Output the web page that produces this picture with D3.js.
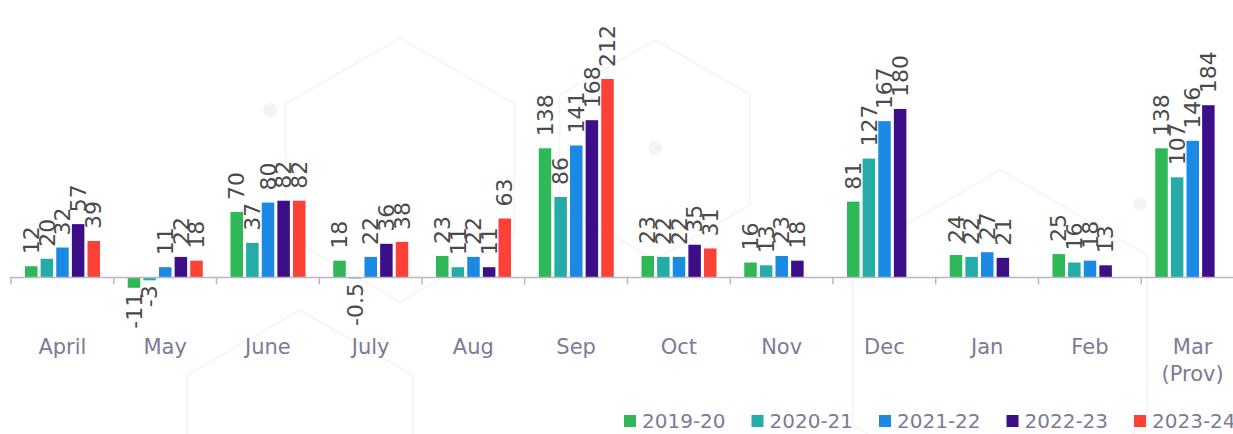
<!DOCTYPE html>
<html lang="en">
<head>
<meta charset="UTF-8">
<title>Monthly values 2019-20 to 2023-24</title>
<script src="https://d3js.org/d3.v7.min.js"></script>
<style>
  body { margin: 0; background: #fff; font-family: 'DejaVu Sans', sans-serif; }
  svg { display: block; }
  .bg path { fill: none; stroke: #f4f4f6; stroke-width: 1.5; }
  .val { font-size: 22px; fill: #4a4a4a; }
  .month text { font-size: 21px; fill: #7c7b98; }
  .legend text { font-size: 20px; fill: #7c7b98; }
</style>
</head>
<body>
<svg width="1233" height="434"></svg>
<script>
  // categories and series
  const months = ["April", "May", "June", "July", "Aug", "Sep", "Oct", "Nov", "Dec", "Jan", "Feb", "Mar (Prov)"];
  const seriesNames = ["2019-20", "2020-21", "2021-22", "2022-23", "2023-24"];
  const colors = ["#2eb857", "#26aca7", "#1b8ae4", "#3c0f88", "#fe4136"];

  const v2019 = [12, -11, 70, 18, 23, 138, 23, 16, 81, 24, 25, 138];
  const v2020 = [20, -3, 37, -0.5, 11, 86, 22, 13, 127, 22, 16, 107];
  const v2021 = [32, 11, 80, 22, 22, 141, 22, 23, 167, 27, 18, 146];
  const v2022 = [57, 22, 82, 36, 11, 168, 35, 18, 180, 21, 13, 184];
  const v2023 = [39, 18, 82, 38, 63, 212, 31, null, null, null, null, null];
  const allValues = [v2019, v2020, v2021, v2022, v2023];

  const svg = d3.select("svg");

  // faint hexagon decoration in the background
  const bg = svg.append("g").attr("class", "bg");
  const hex = (cx, cy, r) => {
    const pts = d3.range(6).map(i => {
      const a = Math.PI / 3 * i - Math.PI / 2;
      return [cx + r * Math.cos(a), cy + r * Math.sin(a)];
    });
    return "M" + pts.join("L") + "Z";
  };
  bg.append("path").attr("d", hex(400, 170, 132));
  bg.append("path").attr("d", hex(655, 150, 110));
  bg.append("path").attr("d", hex(1000, 340, 170));
  bg.append("path").attr("d", hex(300, 440, 130));
  bg.append("circle").attr("cx", 270).attr("cy", 110).attr("r", 7).attr("fill", "#f4f4f6");
  bg.append("circle").attr("cx", 655).attr("cy", 148).attr("r", 7).attr("fill", "#f4f4f6");
  bg.append("circle").attr("cx", 1140).attr("cy", 204).attr("r", 7).attr("fill", "#f4f4f6");

  const x0 = d3.scaleBand().domain(months).range([11, 11 + 12 * 102.75]).padding(0);
  const x1 = d3.scaleBand().domain(seriesNames).range([14, 89]).paddingInner(0.2);
  const y = d3.scaleLinear().domain([0, 212]).range([277.5, 79]);

  const rows = [];
  months.forEach((m, i) => {
    seriesNames.forEach((s, j) => {
      const v = allValues[j][i];
      if (v !== null) rows.push({ month: m, series: s, value: v, color: colors[j] });
    });
  });

  const plot = svg.append("g");

  plot.selectAll("rect.bar")
    .data(rows)
    .join("rect")
    .attr("class", "bar")
    .attr("x", d => x0(d.month) + x1(d.series))
    .attr("width", x1.bandwidth())
    .attr("y", d => Math.min(y(d.value), y(0)))
    .attr("height", d => Math.max(1, Math.abs(y(d.value) - y(0))))
    .attr("fill", d => d.color);

  // axis line with ticks at category boundaries
  const axis = svg.append("g").attr("class", "month");
  axis.append("line")
    .attr("x1", 10).attr("x2", 1233)
    .attr("y1", y(0)).attr("y2", y(0))
    .attr("stroke", "#b9b6c8").attr("stroke-width", 1.5);
  axis.selectAll("line.tick")
    .data(months)
    .join("line")
    .attr("class", "tick")
    .attr("x1", d => x0(d)).attr("x2", d => x0(d))
    .attr("y1", y(0)).attr("y2", y(0) + 7)
    .attr("stroke", "#b9b6c8").attr("stroke-width", 1.5);

  axis.selectAll("text")
    .data(months)
    .join("text")
    .attr("text-anchor", "middle")
    .attr("y", 354)
    .each(function (d) {
      const parts = d === "Mar (Prov)" ? ["Mar", "(Prov)"] : [d];
      const t = d3.select(this);
      parts.forEach((p, k) => {
        t.append("tspan")
          .attr("x", x0(d) + x0.bandwidth() / 2)
          .attr("dy", k === 0 ? 0 : 27)
          .text(p);
      });
    });

  // value labels, rotated
  plot.selectAll("text.val")
    .data(rows)
    .join("text")
    .attr("class", "val")
    .attr("dy", "0.35em")
    .attr("text-anchor", d => d.value < 0 ? "end" : "start")
    .attr("transform", d => {
      const cx = x0(d.month) + x1(d.series) + x1.bandwidth() / 2;
      const yy = d.value < 0 ? Math.max(y(d.value), y(0)) + 5 : y(d.value) - 12;
      return `translate(${cx},${yy}) rotate(-90)`;
    })
    .text(d => d.value);

  // legend
  const legend = svg.append("g").attr("class", "legend");
  const item = legend.selectAll("g")
    .data(seriesNames)
    .join("g")
    .attr("transform", (d, i) => `translate(${624 + i * 127.5},415)`);
  item.append("rect").attr("width", 12).attr("height", 12).attr("fill", (d, i) => colors[i]);
  item.append("text").attr("x", 18).attr("y", 13).text(d => d);
</script>
</body>
</html>
